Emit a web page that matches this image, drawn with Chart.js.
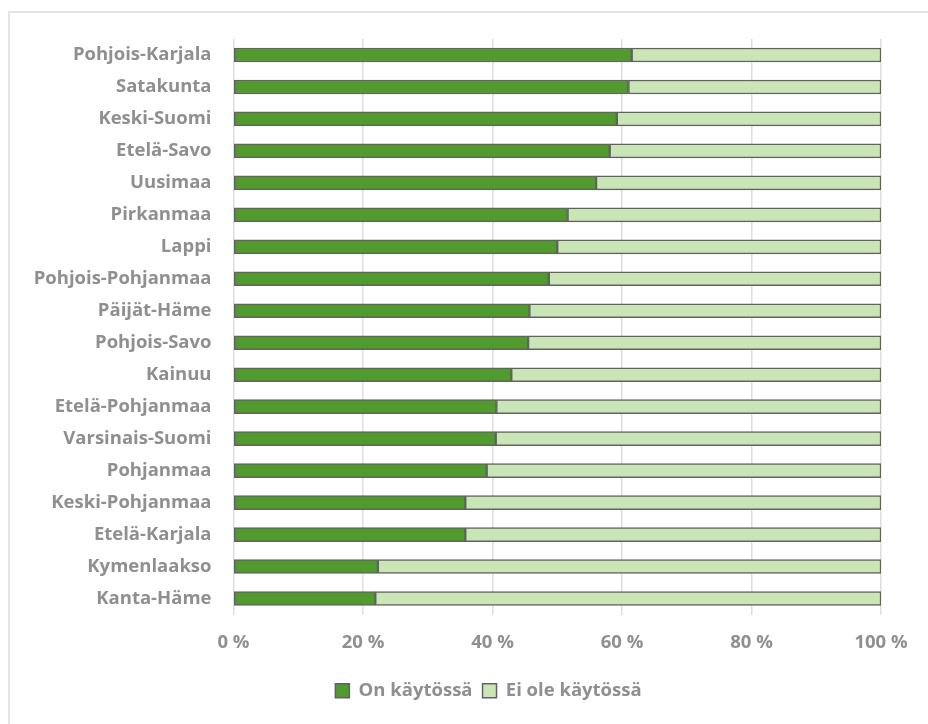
<!DOCTYPE html>
<html>
<head>
<meta charset="utf-8">
<script src="https://cdn.jsdelivr.net/npm/chart.js@4"></script>
<style>
    html, body { margin: 0; padding: 0; background: #fff; overflow: hidden; }
    #frame {
        position: absolute; left: 8px; top: 11px;
        width: 960px; height: 760px;
        border: 2px solid #e3e3e3; box-sizing: border-box;
    }
    #wrap { position: absolute; left: 0; top: 0; width: 928px; height: 724px; }
</style>
</head>
<body>
<div id="frame"></div>
<div id="wrap"><canvas id="chart"></canvas></div>
<script>
const regions = [
    'Pohjois-Karjala', 'Satakunta', 'Keski-Suomi', 'Etelä-Savo', 'Uusimaa',
    'Pirkanmaa', 'Lappi', 'Pohjois-Pohjanmaa', 'Päijät-Häme', 'Pohjois-Savo',
    'Kainuu', 'Etelä-Pohjanmaa', 'Varsinais-Suomi', 'Pohjanmaa',
    'Keski-Pohjanmaa', 'Etelä-Karjala', 'Kymenlaakso', 'Kanta-Häme'
];
const inUse = [61.5, 61.0, 59.2, 58.1, 56.0, 51.6, 50.0, 48.7, 45.7, 45.5,
    42.9, 40.6, 40.5, 39.1, 35.8, 35.8, 22.3, 21.9];
const notInUse = [38.5, 39.0, 40.8, 41.9, 44.0, 48.4, 50.0, 51.3, 54.3, 54.5,
    57.1, 59.4, 59.5, 60.9, 64.2, 64.2, 77.7, 78.1];
const xTicks = [0, 20, 40, 60, 80, 100];

const textColor = '#8f8f8f';
const font = { family: 'Open Sans', size: 18.5, weight: 'bold' };

// legend sits a bit right of the canvas centre in the original
const shiftLegend = {
    id: 'shiftLegend',
    afterLayout(chart) {
        if (chart.legend) {
            chart.legend.left += 48;
            chart.legend.right += 48;
        }
    }
};

new Chart(document.getElementById('chart').getContext('2d'), {
    type: 'bar',
    data: {
        labels: regions,
        datasets: [
            {
                label: 'On käytössä',
                data: inUse,
                backgroundColor: '#519a2e',
                borderColor: '#626262',
                borderWidth: 1.5,
                borderSkipped: false,
                barThickness: 14
            },
            {
                label: 'Ei ole käytössä',
                data: notInUse,
                backgroundColor: '#cbe6b6',
                borderColor: '#626262',
                borderWidth: 1.5,
                borderSkipped: false,
                barThickness: 14
            }
        ]
    },
    plugins: [shiftLegend],
    options: {
        indexAxis: 'y',
        responsive: true,
        maintainAspectRatio: false,
        animation: false,
        layout: { padding: { top: 39, right: 47, bottom: 14, left: 0 } },
        plugins: {
            legend: {
                position: 'bottom',
                labels: {
                    color: textColor,
                    font: font,
                    boxWidth: 14,
                    boxHeight: 14,
                    padding: 10
                }
            },
            tooltip: { enabled: false }
        },
        scales: {
            x: {
                stacked: true,
                min: 0,
                max: 100,
                afterBuildTicks: scale => {
                    scale.ticks = xTicks.map(v => ({ value: v }));
                },
                afterFit: scale => { scale.height = 57; },
                ticks: {
                    color: textColor,
                    font: font,
                    padding: 17,
                    callback: v => v + ' %'
                },
                grid: { color: '#dedede', lineWidth: 1.5, drawTicks: false },
                border: { display: false }
            },
            y: {
                stacked: true,
                afterFit: scale => { scale.width = 233.5; },
                ticks: { color: textColor, font: font, padding: 22 },
                grid: { display: false, drawTicks: false },
                border: { display: false }
            }
        }
    }
});
</script>
</body>
</html>
